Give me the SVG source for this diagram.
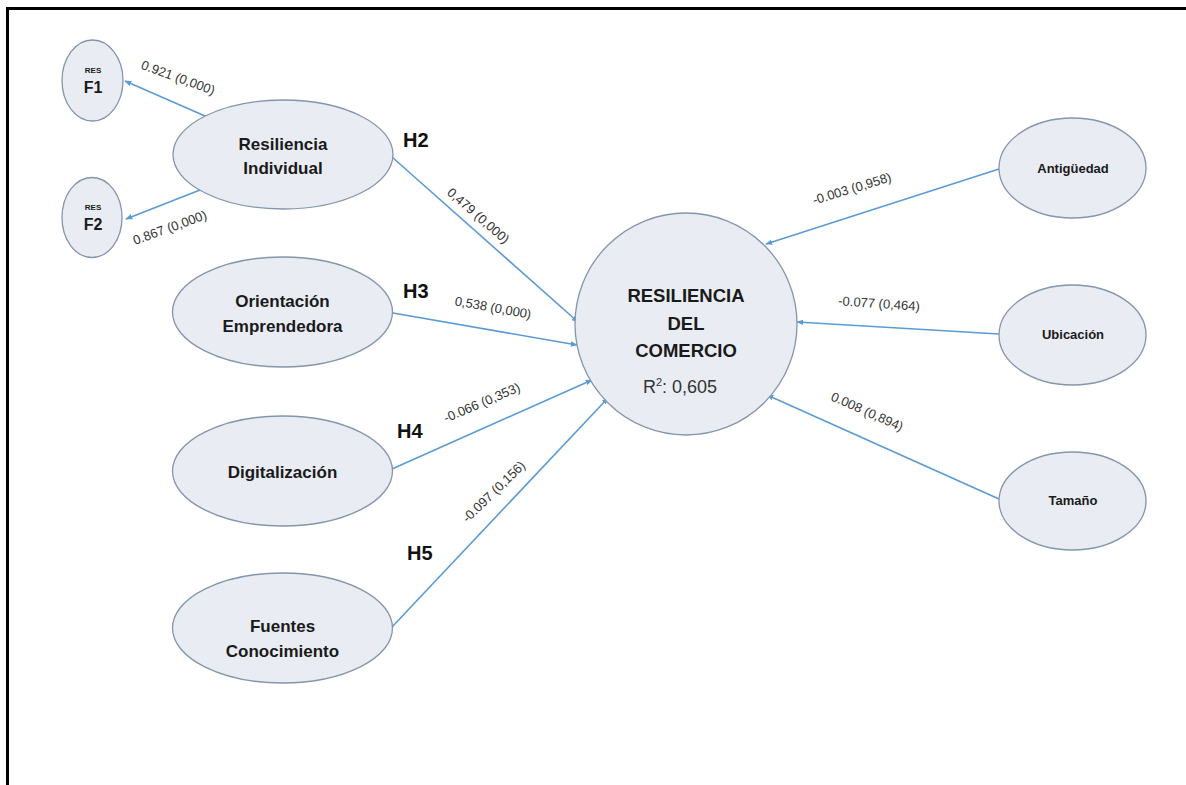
<svg xmlns="http://www.w3.org/2000/svg" width="1186" height="785" viewBox="0 0 1186 785">
<style>
.n{fill:#e9edf3;stroke:#8595aa;stroke-width:1.3}
.t{font-family:"Liberation Sans",Arial,sans-serif;font-weight:bold;fill:#1a1a1a;text-anchor:middle}
.r{font-family:"Liberation Sans",Arial,sans-serif;font-weight:normal;fill:#333;text-anchor:middle}
.e{font-family:"Liberation Sans",Arial,sans-serif;font-size:13px;fill:#333;text-anchor:middle}
.h{font-family:"Liberation Sans",Arial,sans-serif;font-weight:bold;font-size:20px;fill:#111}
.c{stroke:#5b9bd5;stroke-width:1.6;fill:none;marker-end:url(#ah)}
</style>
<defs>
<marker id="ah" viewBox="0 0 10 10" refX="9" refY="5" markerWidth="7" markerHeight="7" markerUnits="userSpaceOnUse" orient="auto">
<path d="M0,1 L10,5 L0,9 z" fill="#5b9bd5"/>
</marker>
</defs>
<rect width="1186" height="785" fill="#fff"/>
<g id="frame">
<line x1="6" y1="8.5" x2="1186" y2="8.5" stroke="#000" stroke-width="3"/>
<line x1="7.5" y1="7" x2="7.5" y2="785" stroke="#000" stroke-width="3"/>
</g>
<g id="connectors">
<line class="c" x1="205" y1="116" x2="125" y2="81"/>
<line class="c" x1="200" y1="190" x2="126" y2="219"/>
<line class="c" x1="392" y1="157" x2="578" y2="322"/>
<line class="c" x1="393" y1="313" x2="577" y2="345"/>
<line class="c" x1="392" y1="469" x2="592" y2="380"/>
<line class="c" x1="392" y1="627" x2="608" y2="398"/>
<line class="c" x1="999" y1="169" x2="766" y2="244"/>
<line class="c" x1="999" y1="334" x2="797" y2="322"/>
<line class="c" x1="999" y1="499" x2="767" y2="395"/>
</g>
<g id="edge-labels">
<text class="e" transform="translate(178,78) rotate(20)" y="4">0.921 (0,000)</text>
<text class="e" transform="translate(170,228) rotate(-20)" y="4">0.867 (0,000)</text>
<text class="e" transform="translate(478,216) rotate(41)" y="4">0,479 (0,000)</text>
<text class="e" transform="translate(493,308) rotate(10)" y="4">0,538 (0,000)</text>
<text class="e" transform="translate(482,403) rotate(-23)" y="4">-0.066 (0,353)</text>
<text class="e" transform="translate(494,492) rotate(-44)" y="4">-0.097 (0,156)</text>
<text class="e" transform="translate(852,189) rotate(-17)" y="4">-0.003 (0,958)</text>
<text class="e" transform="translate(879,304) rotate(4)" y="4">-0.077 (0,464)</text>
<text class="e" transform="translate(867,412) rotate(24)" y="4">0.008 (0,894)</text>
</g>
<g id="hyp-labels">
<text class="h" x="403" y="147">H2</text>
<text class="h" x="403" y="298">H3</text>
<text class="h" x="397" y="438">H4</text>
<text class="h" x="407" y="560">H5</text>
</g>
<g id="node-resf1">
<ellipse class="n" cx="92.5" cy="80.5" rx="30.5" ry="40.5"/>
<text class="t" x="93" y="73" font-size="8">RES</text>
<text class="t" x="93" y="93" font-size="16">F1</text>
</g>
<g id="node-resf2">
<ellipse class="n" cx="92" cy="217.5" rx="30" ry="40"/>
<text class="t" x="93" y="210" font-size="8">RES</text>
<text class="t" x="93" y="230" font-size="16">F2</text>
</g>
<g id="node-resiliencia-individual">
<ellipse class="n" cx="283" cy="154.5" rx="110" ry="54.5"/>
<text class="t" x="283" y="150" font-size="17">Resiliencia</text>
<text class="t" x="283" y="174" font-size="17">Individual</text>
</g>
<g id="node-orientacion">
<ellipse class="n" cx="282.5" cy="312" rx="110" ry="55"/>
<text class="t" x="282.5" y="307" font-size="17">Orientación</text>
<text class="t" x="282.5" y="332" font-size="17">Emprendedora</text>
</g>
<g id="node-digitalizacion">
<ellipse class="n" cx="282.5" cy="471" rx="110" ry="55"/>
<text class="t" x="282.5" y="478" font-size="17">Digitalización</text>
</g>
<g id="node-fuentes">
<ellipse class="n" cx="282.5" cy="628" rx="110" ry="55"/>
<text class="t" x="282.5" y="632" font-size="17">Fuentes</text>
<text class="t" x="282.5" y="657" font-size="17">Conocimiento</text>
</g>
<g id="node-resiliencia-comercio">
<circle class="n" cx="686" cy="324" r="111"/>
<text class="t" x="686" y="302" font-size="18.5">RESILIENCIA</text>
<text class="t" x="686" y="330" font-size="18.5">DEL</text>
<text class="t" x="686" y="357" font-size="18.5">COMERCIO</text>
<text class="r" x="680" y="393" font-size="18">R<tspan font-size="11" dy="-7">2</tspan><tspan dy="7">: 0,605</tspan></text>
</g>
<g id="node-antiguedad">
<ellipse class="n" cx="1072.5" cy="168" rx="73.5" ry="50"/>
<text class="t" x="1073" y="173" font-size="13">Antigüedad</text>
</g>
<g id="node-ubicacion">
<ellipse class="n" cx="1072.5" cy="335" rx="73.5" ry="50"/>
<text class="t" x="1073" y="339" font-size="13">Ubicación</text>
</g>
<g id="node-tamano">
<ellipse class="n" cx="1072.5" cy="501" rx="73.5" ry="49"/>
<text class="t" x="1073" y="505" font-size="13">Tamaño</text>
</g>
</svg>
